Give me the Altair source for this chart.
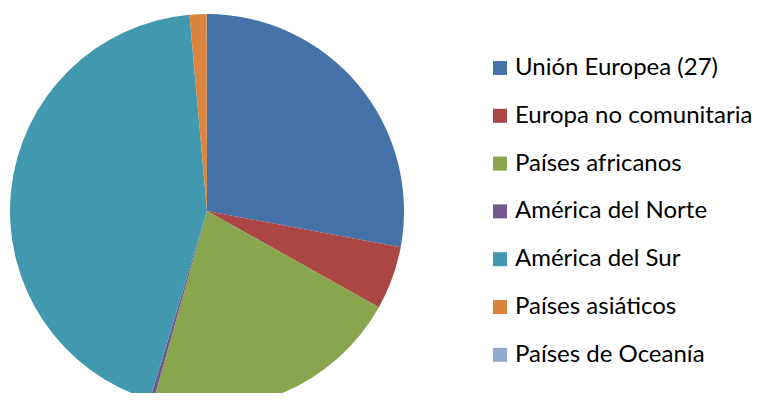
import altair as alt
import pandas as pd

regions = ["Unión Europea (27)", "Europa no comunitaria", "Países africanos",
           "América del Norte", "América del Sur", "Países asiáticos", "Países de Oceanía"]
shares = [28.0, 5.2, 21.3, 0.3, 44.0, 1.4, 0.02]
colors = ["#4572A7", "#AA4643", "#89A54E", "#71588F", "#4198AF", "#DB843D", "#93A9CF"]

df = pd.DataFrame({"region": regions, "share": shares, "idx": list(range(len(regions)))})

chart = alt.Chart(df).mark_arc(outerRadius=197, stroke=None).encode(
    theta=alt.Theta("share:Q", stack=True),
    order=alt.Order("idx:Q"),
    color=alt.Color("region:N", scale=alt.Scale(domain=regions, range=colors),
                    sort=regions,
                    legend=alt.Legend(title=None, orient="none", legendX=480, legendY=48,
                                      symbolType="square", symbolSize=196,
                                      symbolStrokeWidth=0,
                                      labelFont="Lato", labelFontSize=24,
                                      labelColor="#000000", labelOffset=3,
                                      rowPadding=23.8, labelLimit=400)),
    x=alt.value(199),
    y=alt.value(203),
).properties(width=749, height=385, autosize=alt.AutoSizeParams(type="none"), padding=0
).configure_view(stroke=None)

chart.save("out.html", embed_options={"renderer": "svg", "actions": False})
